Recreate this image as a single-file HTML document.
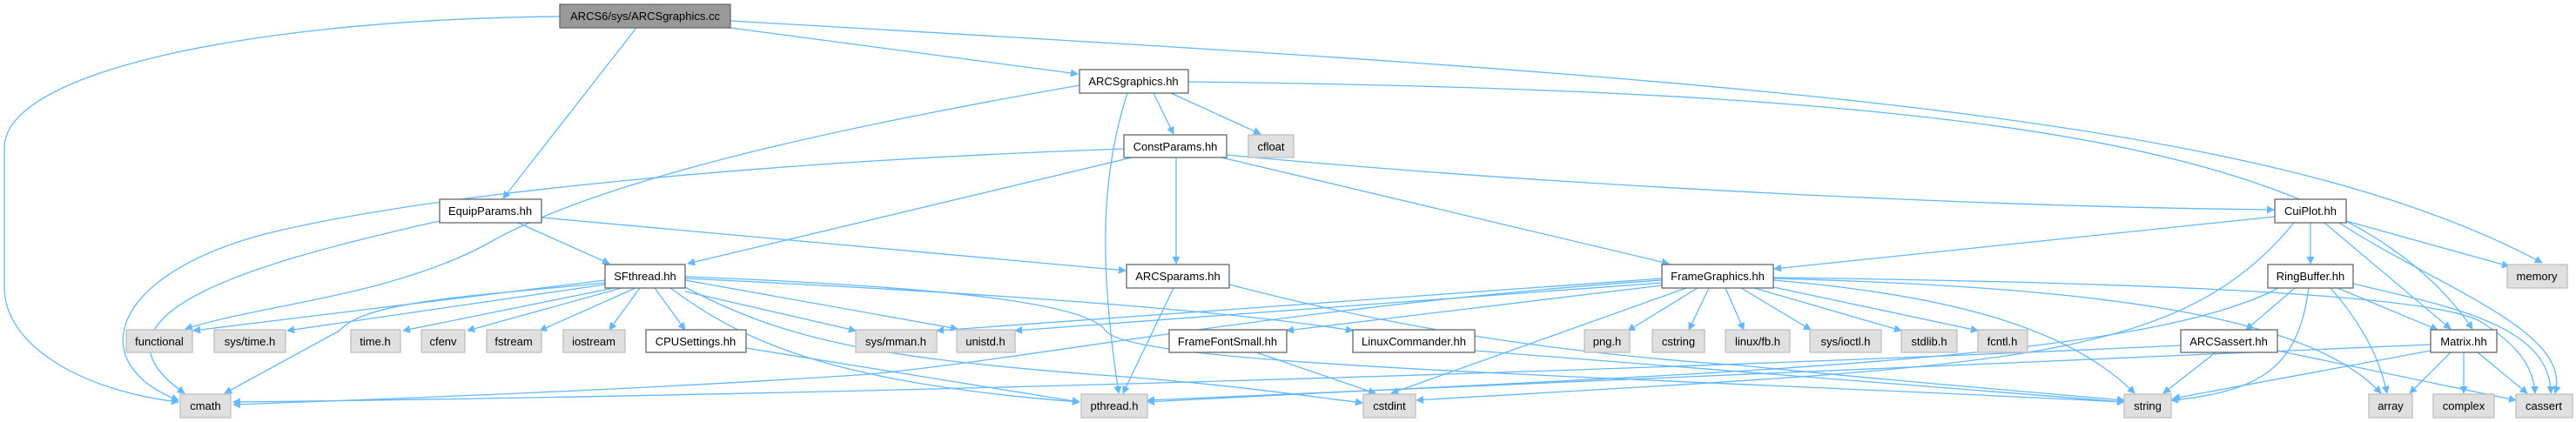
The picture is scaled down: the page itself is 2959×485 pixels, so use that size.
<!DOCTYPE html>
<html><head><meta charset="utf-8"><style>
html,body{margin:0;padding:0;background:#fff;}
svg{display:block;}
text{font-family:"Liberation Sans",sans-serif;font-size:13px;fill:#000;text-anchor:middle;}
.e{fill:none;stroke:#63b8ff;stroke-width:1.3;marker-end:url(#a);}
.w{fill:#fff;stroke:#666;stroke-width:1.3;}
.g{fill:#e0e0e0;stroke:#bfbfbf;stroke-width:1.3;}
.r{fill:#999;stroke:#666;stroke-width:1.3;}
</style></head><body>
<svg width="2959" height="485" viewBox="0 0 2959 485" xmlns="http://www.w3.org/2000/svg">
<defs><marker id="a" viewBox="0 0 10 10" refX="9" refY="5" markerWidth="9" markerHeight="9" markerUnits="userSpaceOnUse" orient="auto"><path d="M0,0 L10,5 L0,10 z" fill="#63b8ff"/></marker></defs>
<g>
<path class="e" d="M643,19 C300,22 5,80 5,170 L5,330 C5,400 100,450 205,462"/>
<path class="e" d="M731,32 L578,228"/>
<path class="e" d="M839,32 L1238,85"/>
<path class="e" d="M839,24 C2000,90 2600,130 2920,302"/>
<path class="e" d="M1240,98 C1000,140 700,200 560,280 C450,340 300,350 213,378"/>
<path class="e" d="M1295,107 C1265,200 1262,300 1285,452"/>
<path class="e" d="M1325,107 L1348,154"/>
<path class="e" d="M1345,107 L1448,154"/>
<path class="e" d="M1365,94 C2300,105 2700,170 2840,378"/>
<path class="e" d="M1291,171 C900,185 500,220 300,270 C120,320 100,420 205,460"/>
<path class="e" d="M1300,181 L790,303"/>
<path class="e" d="M1351,181 L1351,303"/>
<path class="e" d="M1403,181 L1917,303"/>
<path class="e" d="M1409,178 C1800,215 2300,238 2612,241"/>
<path class="e" d="M505,254 C300,300 80,360 212,452"/>
<path class="e" d="M595,256 L700,303"/>
<path class="e" d="M622,250 L1293,311"/>
<path class="e" d="M695,322 L222,380"/>
<path class="e" d="M695,327 L330,380"/>
<path class="e" d="M705,331 L463,380"/>
<path class="e" d="M714,331 L537,380"/>
<path class="e" d="M730,331 L620,380"/>
<path class="e" d="M735,331 L700,379"/>
<path class="e" d="M752,331 L787,379"/>
<path class="e" d="M695,325 C550,340 420,345 390,380 L258,452"/>
<path class="e" d="M787,335 L983,380"/>
<path class="e" d="M787,322 L1100,378"/>
<path class="e" d="M787,320 C1100,335 1400,355 1554,380"/>
<path class="e" d="M770,331 C850,390 950,440 1240,462"/>
<path class="e" d="M787,330 C900,390 1000,410 1250,430 C1400,440 1500,455 1565,463"/>
<path class="e" d="M787,318 C1100,330 1250,350 1270,380 C1300,420 1800,430 2440,462"/>
<path class="e" d="M857,400 L1240,462"/>
<path class="e" d="M1348,331 L1290,452"/>
<path class="e" d="M1412,327 C1500,350 1700,400 2000,420 C2200,440 2350,452 2440,460"/>
<path class="e" d="M1909,322 C1500,350 1200,410 1000,430 C700,450 400,460 268,465"/>
<path class="e" d="M1909,320 L1076,380"/>
<path class="e" d="M1909,325 L1166,380"/>
<path class="e" d="M1909,328 L1478,380"/>
<path class="e" d="M1950,331 L1870,380"/>
<path class="e" d="M1963,331 L1940,379"/>
<path class="e" d="M1982,331 L2003,379"/>
<path class="e" d="M2000,331 L2080,379"/>
<path class="e" d="M2015,331 L2184,380"/>
<path class="e" d="M2037,330 L2272,380"/>
<path class="e" d="M1937,331 L1598,452"/>
<path class="e" d="M2037,322 C2250,340 2380,380 2452,452"/>
<path class="e" d="M2037,320 C2400,330 2650,360 2735,452"/>
<path class="e" d="M2037,319 C2500,325 2800,340 2850,370 C2890,395 2910,420 2912,452"/>
<path class="e" d="M1443,405 L1580,452"/>
<path class="e" d="M1694,403 L2440,462"/>
<path class="e" d="M2613,249 L2038,309"/>
<path class="e" d="M2654,256 L2654,303"/>
<path class="e" d="M2695,254 L2882,306"/>
<path class="e" d="M2670,256 L2815,378"/>
<path class="e" d="M2687,256 C2800,330 2955,380 2935,452"/>
<path class="e" d="M2635,256 C2500,420 2300,420 1627,460"/>
<path class="e" d="M2636,331 L2580,379"/>
<path class="e" d="M2617,331 C2450,420 1900,430 1318,462"/>
<path class="e" d="M2652,331 C2640,420 2600,450 2494,460"/>
<path class="e" d="M2677,331 C2720,380 2735,420 2742,452"/>
<path class="e" d="M2685,331 L2800,379"/>
<path class="e" d="M2703,326 C2800,350 2930,370 2930,452"/>
<path class="e" d="M2505,397 C1800,430 900,455 268,462"/>
<path class="e" d="M2545,405 L2485,452"/>
<path class="e" d="M2616,403 L2890,460"/>
<path class="e" d="M2792,396 L1318,460"/>
<path class="e" d="M2792,403 L2496,458"/>
<path class="e" d="M2815,405 L2768,452"/>
<path class="e" d="M2830,405 L2830,452"/>
<path class="e" d="M2846,405 L2903,452"/>
</g>
<g>
<rect class="r" x="643" y="5" width="196" height="27"/><text x="741" y="23">ARCS6/sys/ARCSgraphics.cc</text>
<rect class="w" x="1240" y="80" width="125" height="27"/><text x="1302" y="98">ARCSgraphics.hh</text>
<rect class="w" x="1291" y="155" width="118" height="26"/><text x="1350" y="173">ConstParams.hh</text>
<rect class="g" x="1434" y="155" width="52" height="26"/><text x="1460" y="173">cfloat</text>
<rect class="w" x="505" y="229" width="117" height="27"/><text x="563" y="247">EquipParams.hh</text>
<rect class="w" x="2613" y="229" width="82" height="27"/><text x="2654" y="247">CuiPlot.hh</text>
<rect class="w" x="695" y="304" width="92" height="27"/><text x="741" y="322">SFthread.hh</text>
<rect class="w" x="1294" y="304" width="118" height="27"/><text x="1353" y="322">ARCSparams.hh</text>
<rect class="w" x="1909" y="304" width="128" height="27"/><text x="1973" y="322">FrameGraphics.hh</text>
<rect class="w" x="2605" y="304" width="98" height="27"/><text x="2654" y="322">RingBuffer.hh</text>
<rect class="g" x="2880" y="304" width="69" height="27"/><text x="2914" y="322">memory</text>
<rect class="g" x="145" y="379" width="76" height="26"/><text x="183" y="397">functional</text>
<rect class="g" x="246" y="379" width="82" height="26"/><text x="287" y="397">sys/time.h</text>
<rect class="g" x="403" y="379" width="57" height="26"/><text x="431" y="397">time.h</text>
<rect class="g" x="484" y="379" width="50" height="26"/><text x="509" y="397">cfenv</text>
<rect class="g" x="559" y="379" width="63" height="26"/><text x="590" y="397">fstream</text>
<rect class="g" x="647" y="379" width="71" height="26"/><text x="682" y="397">iostream</text>
<rect class="w" x="742" y="379" width="115" height="26"/><text x="799" y="397">CPUSettings.hh</text>
<rect class="g" x="983" y="379" width="93" height="26"/><text x="1029" y="397">sys/mman.h</text>
<rect class="g" x="1099" y="379" width="67" height="26"/><text x="1132" y="397">unistd.h</text>
<rect class="w" x="1343" y="379" width="135" height="26"/><text x="1410" y="397">FrameFontSmall.hh</text>
<rect class="w" x="1554" y="379" width="140" height="26"/><text x="1624" y="397">LinuxCommander.hh</text>
<rect class="g" x="1820" y="379" width="52" height="26"/><text x="1846" y="397">png.h</text>
<rect class="g" x="1898" y="379" width="60" height="26"/><text x="1928" y="397">cstring</text>
<rect class="g" x="1982" y="379" width="74" height="26"/><text x="2019" y="397">linux/fb.h</text>
<rect class="g" x="2079" y="379" width="82" height="26"/><text x="2120" y="397">sys/ioctl.h</text>
<rect class="g" x="2184" y="379" width="64" height="26"/><text x="2216" y="397">stdlib.h</text>
<rect class="g" x="2272" y="379" width="57" height="26"/><text x="2300" y="397">fcntl.h</text>
<rect class="w" x="2505" y="379" width="111" height="26"/><text x="2560" y="397">ARCSassert.hh</text>
<rect class="w" x="2792" y="379" width="76" height="26"/><text x="2830" y="397">Matrix.hh</text>
<rect class="g" x="207" y="453" width="58" height="27"/><text x="236" y="471">cmath</text>
<rect class="g" x="1242" y="453" width="76" height="27"/><text x="1280" y="471">pthread.h</text>
<rect class="g" x="1566" y="453" width="60" height="27"/><text x="1596" y="471">cstdint</text>
<rect class="g" x="2440" y="453" width="54" height="27"/><text x="2467" y="471">string</text>
<rect class="g" x="2721" y="453" width="50" height="27"/><text x="2746" y="471">array</text>
<rect class="g" x="2795" y="453" width="70" height="27"/><text x="2830" y="471">complex</text>
<rect class="g" x="2890" y="453" width="65" height="27"/><text x="2922" y="471">cassert</text>
</g>
</svg>
</body></html>
